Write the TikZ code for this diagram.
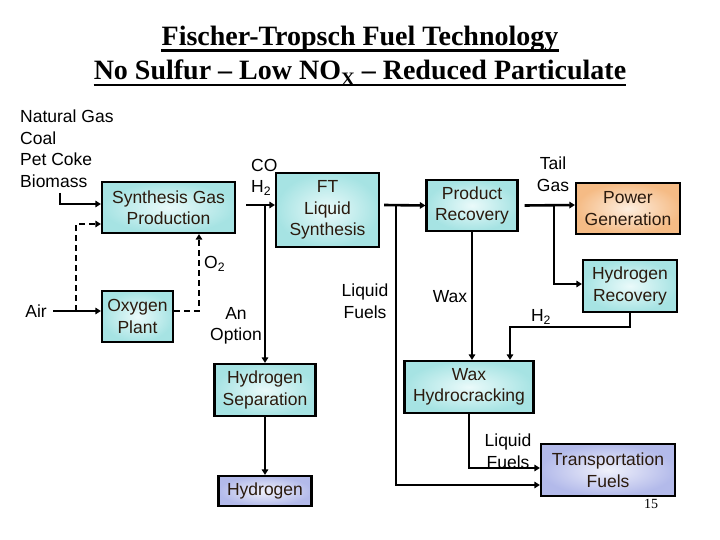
\documentclass[tikz,border=0pt]{standalone}
\usepackage{fontspec}
\setmainfont{Liberation Sans}
\newfontfamily\ttlfont{Liberation Serif}
\usetikzlibrary{arrows.meta,calc}
\definecolor{cyanout}{HTML}{A6E3E3}
\definecolor{cyanin}{HTML}{EAFAFA}
\definecolor{orout}{HTML}{F5BB85}
\definecolor{orin}{HTML}{FDEEDF}
\definecolor{lavout}{HTML}{B3BAEA}
\definecolor{lavin}{HTML}{F0F1FB}
\definecolor{boxtext}{HTML}{2A1A0E}
\newcommand\myfont{\fontsize{17.5}{21.5}\selectfont}
\begin{document}
\begin{tikzpicture}[x=1pt,y=-1pt,
  box/.style={draw, line width=2.2pt, align=center, inner sep=0pt, text=boxtext,
    font=\myfont, shading=radial, inner color=cyanin, outer color=cyanout},
  orbox/.style={box, inner color=orin, outer color=orout},
  lavbox/.style={box, inner color=lavin, outer color=lavout},
  lbl/.style={align=center, inner sep=0pt, font=\myfont},
  conn/.style={line width=2.6pt, -{Triangle[length=5.5pt,width=6.5pt]}},
  dconn/.style={conn, dash pattern=on 6pt off 4pt}]
\useasboundingbox (0,0) rectangle (720,540);
% title
\node[font=\ttlfont\bfseries\fontsize{28}{30}\selectfont, anchor=base, inner sep=0pt] (t1) at (360,46) {Fischer-Tropsch Fuel Technology};
\node[font=\ttlfont\bfseries\fontsize{28}{30}\selectfont, anchor=base, inner sep=0pt] (t2) at (360,80) {No Sulfur – Low NO\raisebox{-6pt}{\fontsize{19}{19}\selectfont X} – Reduced Particulate};
\draw[line width=2.4pt] ([yshift=-4.5pt]t1.base west) -- ([yshift=-4.5pt]t1.base east);
\draw[line width=2.4pt] ([yshift=-5pt]t2.base west) -- ([yshift=-5pt]t2.base east);
% boxes
\node[box, minimum width=133pt, minimum height=51pt] (sgp) at (168.5,207.5) {Synthesis Gas\\Production};
\node[box, minimum width=103pt, minimum height=74pt] (ft) at (327.5,210) {FT\\Liquid\\Synthesis};
\node[box, minimum width=71pt, minimum height=51pt] (o2p) at (137.5,316.5) {Oxygen\\Plant};
\node[box, minimum width=91pt, minimum height=51pt] (pr) at (472,205.5) {Product\\Recovery};
\node[orbox, minimum width=104pt, minimum height=51pt] (pg) at (628,208.5) {Power\\Generation};
\node[box, minimum width=94pt, minimum height=52pt] (hr) at (630,286) {Hydrogen\\Recovery};
\node[box, minimum width=101pt, minimum height=52pt] (hs) at (265,390) {Hydrogen\\Separation};
\node[lavbox, minimum width=93pt, minimum height=30pt] (hyd) at (265,491) {Hydrogen};
\node[box, minimum width=129pt, minimum height=52pt] (wh) at (469,387) {Wax\\Hydrocracking};
\node[lavbox, minimum width=134pt, minimum height=52pt] (tf) at (608,470) {Transportation\\Fuels};
% labels
\node[lbl, align=left, anchor=north west] (feeds) at (20,110) {Natural Gas\\Coal\\Pet Coke\\Biomass};
\node[lbl, anchor=east] (air) at (47,311) {Air};
\node[lbl, align=left, anchor=west] (coh) at (251,177) {CO\\H\textsubscript{2}};
\node[lbl, anchor=west] (o2) at (204,264) {O\textsubscript{2}};
\node[lbl] (opt) at (236,326) {An\\Option};
\node[lbl] (lf1) at (365,301) {Liquid\\Fuels};
\node[lbl] (wax) at (450,297) {Wax};
\node[lbl] (tail) at (553,174) {Tail\\Gas};
\node[lbl] (h2) at (541,317) {H\textsubscript{2}};
\node[lbl] (lf2) at (508,451) {Liquid\\Fuels};
\node[font=\ttlfont\fontsize{14}{14}\selectfont, inner sep=0pt] (pnum) at (651,504) {15};
% coordinates
\coordinate (feedtop) at (60,193);
\coordinate (split) at (76,311);
\coordinate (optbr) at (265,205);
\coordinate (lfbr) at (396,205);
\coordinate (tgbr) at (554,205);
% connectors
\draw[conn] (feedtop) |- ([yshift=3.5pt]sgp.west);
\draw[conn] ([xshift=6pt]air.east) -- (o2p.west |- air.east);
\draw[dconn] (split) |- ([yshift=-16.5pt]sgp.west);
\draw[dconn] ([yshift=5.5pt]o2p.east) -| ([xshift=30.5pt]sgp.south);
\draw[conn] ([xshift=10pt,yshift=2.5pt]sgp.east) -- ([yshift=5pt]ft.west);
\draw[conn] (optbr) -- (hs.north);
\draw[conn] ([xshift=4pt,yshift=5pt]ft.east) -- (pr.west);
\draw[conn] (lfbr) |- ([yshift=-15pt]tf.west);
\draw[conn] ([xshift=6pt]pr.east) -- ([yshift=3.5pt]pg.west);
\draw[conn] (tgbr) |- ([yshift=2pt]hr.west);
\draw[conn] (pr.south) -- (pr.south |- wh.north);
\draw[conn] (hr.south) -- ++(0,14) -| ([xshift=41pt]wh.north);
\draw[conn] (wh.south) |- ([yshift=2pt]tf.west);
\draw[conn] (hs.south) -- (hyd.north);
\end{tikzpicture}
\end{document}
